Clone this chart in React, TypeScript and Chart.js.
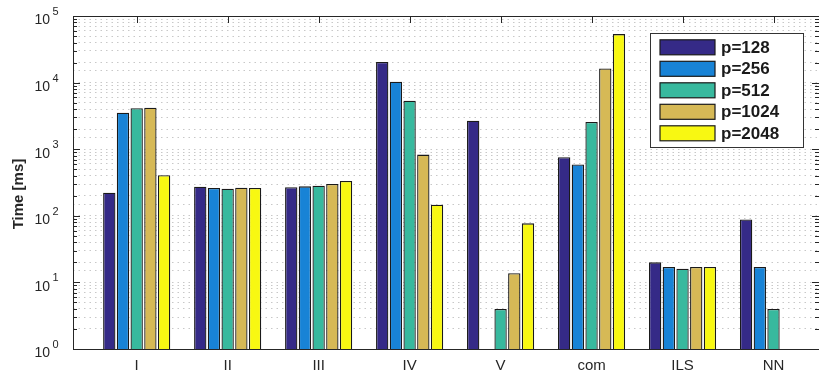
import { useEffect, useRef } from 'react';
import { Chart, registerables } from 'chart.js';

Chart.register(...registerables);

const categories = ['I', 'II', 'III', 'IV', 'V', 'com', 'ILS', 'NN'];
const seriesLabels = ['p=128', 'p=256', 'p=512', 'p=1024', 'p=2048'];
const p128 = [222, 274, 268, 20400, 2680, 760, 20, 88];
const p256 = [3530, 261, 277, 10300, null, 590, 17, 17];
const p512 = [4110, 255, 283, 5350, 4.0, 2560, 16, 4.0];
const p1024 = [4200, 264, 300, 830, 13.7, 16300, 17, null];
const p2048 = [406, 261, 333, 147, 77, 53500, 17, null];
const seriesColors = ['#352a87', '#1883d6', '#38b99e', '#d6b956', '#f8f812'];
const yExponents = [0, 1, 2, 3, 4, 5];
const yTitle = 'Time [ms]';

const allSeries = [p128, p256, p512, p1024, p2048];
const FONT = "'Liberation Sans', Arial, Helvetica, sans-serif";
const AXIS = '#262626';

const decorPlugin = {
  id: 'decor',
  afterDraw(chart: any) {
    const { ctx, chartArea } = chart;
    const { left, right, top, bottom } = chartArea;
    const ys = chart.scales.y;
    const xs = chart.scales.x;
    ctx.save();
    // axis box
    ctx.strokeStyle = AXIS;
    ctx.lineWidth = 1;
    ctx.beginPath();
    ctx.moveTo(left + 0.5, top + 0.5);
    ctx.lineTo(right, top + 0.5);
    ctx.moveTo(left + 0.5, top);
    ctx.lineTo(left + 0.5, bottom + 0.5);
    ctx.moveTo(left, bottom + 0.5);
    ctx.lineTo(right, bottom + 0.5);
    ctx.stroke();
    // y ticks (major + minor) on left and right, inward
    const yt: number[] = [];
    for (let k = 0; k <= 5; k++) {
      for (let m = 1; m <= 9; m++) {
        const v = m * Math.pow(10, k);
        if (v <= 100000) yt.push(v);
      }
    }
    yt.forEach((v) => {
      const y = Math.round(ys.getPixelForValue(v)) + 0.5;
      const exp = Math.log10(v);
      const major = Math.abs(exp - Math.round(exp)) < 1e-9;
      const len = major ? 7 : 4;
      ctx.beginPath();
      ctx.moveTo(left, y);
      ctx.lineTo(left + len, y);
      ctx.moveTo(right, y);
      ctx.lineTo(right - len, y);
      ctx.stroke();
    });
    // top x ticks inward
    categories.forEach((_, i) => {
      const x = Math.round(xs.getPixelForValue(i + 1)) + 0.5;
      ctx.beginPath();
      ctx.moveTo(x, top);
      ctx.lineTo(x, top + 7);
      ctx.stroke();
    });
    // y tick labels 10^k
    ctx.fillStyle = '#262626';
    yExponents.forEach((k) => {
      const y = ys.getPixelForValue(Math.pow(10, k));
      ctx.font = `14px ${FONT}`;
      ctx.textAlign = 'right';
      ctx.textBaseline = 'middle';
      ctx.fillText('10', 50, y + 4.5);
      ctx.font = `11px ${FONT}`;
      ctx.textAlign = 'left';
      ctx.fillText(String(k), 52.5, y - 4);
    });
    // x labels
    ctx.font = `15px ${FONT}`;
    ctx.textAlign = 'center';
    ctx.textBaseline = 'middle';
    categories.forEach((c, i) => {
      ctx.fillText(c, xs.getPixelForValue(i + 1), 366);
    });
    // y title
    ctx.save();
    ctx.translate(19, 194);
    ctx.rotate(-Math.PI / 2);
    ctx.font = `bold 15px ${FONT}`;
    ctx.textAlign = 'center';
    ctx.textBaseline = 'middle';
    ctx.fillText(yTitle, 0, 0);
    ctx.restore();
    // legend
    const bx = 650, by = 33, bw = 153, bh = 114;
    ctx.fillStyle = '#ffffff';
    ctx.fillRect(bx, by, bw, bh);
    ctx.strokeStyle = '#333333';
    ctx.lineWidth = 1;
    ctx.strokeRect(bx + 0.5, by + 0.5, bw, bh);
    seriesLabels.forEach((lab, i) => {
      const cy = 47.3 + i * 21.5;
      ctx.fillStyle = seriesColors[i];
      ctx.fillRect(660, cy - 7.5, 55, 15);
      ctx.strokeStyle = '#1a1a1a';
      ctx.lineWidth = 1.2;
      ctx.strokeRect(660, cy - 7.5, 55, 15);
      ctx.fillStyle = '#1a1a1a';
      ctx.font = `bold 17px ${FONT}`;
      ctx.textAlign = 'left';
      ctx.textBaseline = 'middle';
      ctx.fillText(lab, 721, cy + 1);
    });
    ctx.restore();
  },
};

export default function App() {
  const ref = useRef<HTMLCanvasElement | null>(null);
  useEffect(() => {
    if (!ref.current) return;
    const datasets = allSeries.map((vals, si) => ({
      label: seriesLabels[si],
      data: vals.map((v, i) => ({ x: i + 1, y: v })),
      backgroundColor: seriesColors[si],
      borderColor: '#1a1a1a',
      borderWidth: 1.3,
      barPercentage: 0.9,
      categoryPercentage: 0.753,
    }));
    const chart = new Chart(ref.current, {
      type: 'bar',
      data: { datasets: datasets as any },
      plugins: [decorPlugin],
      options: {
        animation: false,
        responsive: false,
        layout: { padding: { top: 16, right: 0, left: 0, bottom: 0 } },
        plugins: { legend: { display: false }, tooltip: { enabled: false } },
        scales: {
          x: {
            type: 'linear',
            min: 0.3,
            max: 8.5,
            offset: false,
            grid: { display: false },
            border: { display: false },
            ticks: { display: false },
            afterBuildTicks: (s: any) => {
              s.ticks = categories.map((_, i) => ({ value: i + 1 }));
            },
            afterFit: (s: any) => { s.height = 25; },
          },
          y: {
            type: 'logarithmic',
            min: 1,
            max: 100000,
            grid: {
              display: true,
              color: '#c8c8c8',
              lineWidth: 1,
              drawTicks: false,
            },
            border: { display: false, dash: [1.5, 4] },
            ticks: { display: false },
            afterFit: (s: any) => { s.width = 73; },
          },
        },
      },
    });
    return () => chart.destroy();
  }, []);
  return (
    <div style={{ position: 'absolute', left: 0, top: 0, width: 819, height: 374, background: '#fff' }}>
      <canvas ref={ref} width={819} height={374} style={{ display: 'block' }} />
    </div>
  );
}
